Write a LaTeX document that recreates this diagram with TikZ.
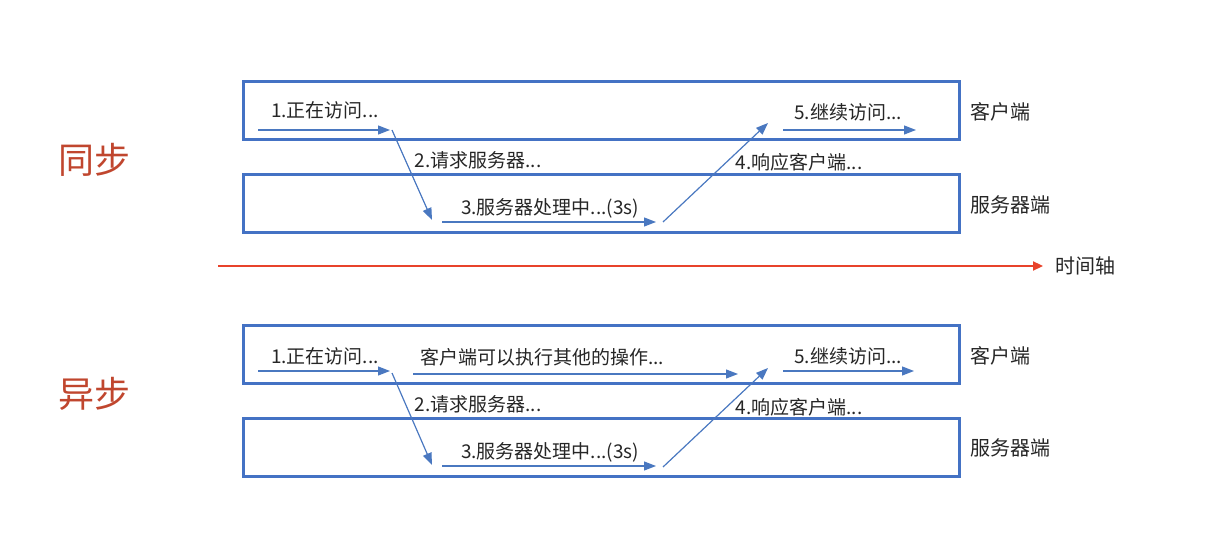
\documentclass[tikz,border=0pt]{standalone}
\usepackage{fontspec}
\setmainfont{Noto Sans CJK SC}
\usetikzlibrary{arrows.meta}
\definecolor{boxblue}{HTML}{4472C4}
\definecolor{arrblue}{HTML}{4A78C0}
\definecolor{axisred}{HTML}{E8432B}
\definecolor{titlered}{HTML}{C0462E}
\definecolor{txtgray}{HTML}{262626}
\tikzset{
  lane/.style={draw=boxblue, line width=1.5pt, minimum width=358pt, minimum height=29pt, inner sep=0pt, outer sep=0pt},
  lbl/.style={font=\fontsize{9.5}{11}\selectfont, text=txtgray, inner sep=0pt},
  side/.style={font=\fontsize{10}{12}\selectfont, text=txtgray, inner sep=0pt},
  title/.style={font=\fontsize{18}{21}\selectfont, text=titlered, inner sep=0pt},
  flow/.style={draw=arrblue, line width=0.6pt, -{Triangle[length=6pt,width=4.5pt]}},
  axis/.style={draw=axisred, line width=1.1pt, -{Triangle[length=5pt,width=4.5pt]}}
}
\begin{document}
\begin{tikzpicture}[x=0.5pt,y=-0.5pt]
\useasboundingbox (0,0) rectangle (1220,539);
% ---------- synchronous ----------
\node[title] (tsync) at (94,160) {同步};
\node[lane] (c1) at (601,111) {};
\node[lane] (s1) at (601,203.5) {};
\node[side] (cl1) at (1000,112) {客户端};
\node[side] (sv1) at (1010,205) {服务器端};
\node[lbl] (l11) at (325,110) {1.正在访问...};
\node[lbl] (l12) at (478,160) {2.请求服务器...};
\node[lbl] (l13) at (550,208) {3.服务器处理中...(3s)};
\node[lbl] (l14) at (799,162) {4.响应客户端...};
\node[lbl] (l15) at (848,112) {5.继续访问...};
\coordinate (p1a) at (258,130); \coordinate (p1b) at (390,130);
\coordinate (p2a) at (392,130); \coordinate (p2b) at (432,220);
\coordinate (p3a) at (442,222); \coordinate (p3b) at (656,222);
\coordinate (p4a) at (663,222); \coordinate (p4b) at (768,123);
\coordinate (p5a) at (783,130); \coordinate (p5b) at (916,130);
\draw[flow] (p1a) -- (p1b);
\draw[flow] (p2a) -- (p2b);
\draw[flow] (p3a) -- (p3b);
\draw[flow] (p4a) -- (p4b);
\draw[flow] (p5a) -- (p5b);
% ---------- time axis ----------
\coordinate (ta) at (218,266);
\node[side, anchor=west] (tl) at (1055,266) {时间轴};
\draw[axis] (ta) -- (tl.west -| 1043,0);
% ---------- asynchronous ----------
\node[title] (tasync) at (94,394) {异步};
\node[lane] (c2) at (601,355) {};
\node[lane] (s2) at (601,447.5) {};
\node[side] (cl2) at (1000,356) {客户端};
\node[side] (sv2) at (1010,448) {服务器端};
\node[lbl] (l21) at (325,356) {1.正在访问...};
\node[lbl] (l2x) at (542,357) {客户端可以执行其他的操作...};
\node[lbl] (l22) at (478,404) {2.请求服务器...};
\node[lbl] (l23) at (550,452) {3.服务器处理中...(3s)};
\node[lbl] (l24) at (799,407) {4.响应客户端...};
\node[lbl] (l25) at (848,356) {5.继续访问...};
\coordinate (q1a) at (258,371); \coordinate (q1b) at (390,371);
\coordinate (qxa) at (413,374); \coordinate (qxb) at (738,374);
\coordinate (q2a) at (392,373); \coordinate (q2b) at (432,465);
\coordinate (q3a) at (442,466); \coordinate (q3b) at (656,466);
\coordinate (q4a) at (663,467); \coordinate (q4b) at (768,368);
\coordinate (q5a) at (783,371); \coordinate (q5b) at (914,371);
\draw[flow] (q1a) -- (q1b);
\draw[flow] (qxa) -- (qxb);
\draw[flow] (q2a) -- (q2b);
\draw[flow] (q3a) -- (q3b);
\draw[flow] (q4a) -- (q4b);
\draw[flow] (q5a) -- (q5b);
\end{tikzpicture}
\end{document}
